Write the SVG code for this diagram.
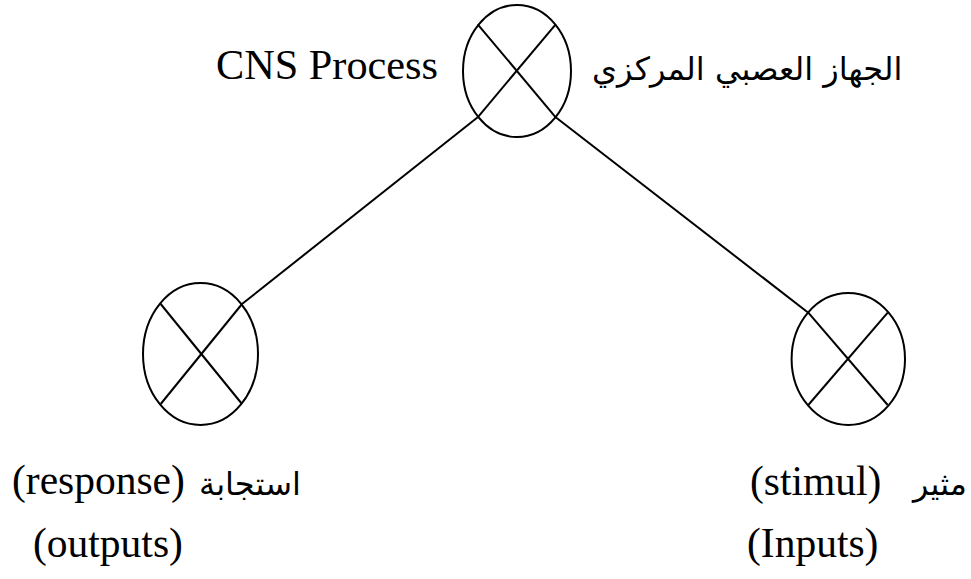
<svg xmlns="http://www.w3.org/2000/svg" width="971" height="579" viewBox="0 0 971 579">
<style>
.node{fill:none;stroke:#000;stroke-width:2}
.x{stroke:#000;stroke-width:2}
.conn{stroke:#000;stroke-width:2;fill:none}
.lat{font-family:"Liberation Serif","Times New Roman",serif;font-size:41.5px;fill:#000}
.ar{font-family:"DejaVu Sans","Noto Sans",sans-serif;font-size:32px;fill:#000}
</style>
<rect width="971" height="579" fill="#fff"/>
<g id="connectors">
<line class="conn" x1="477.7" y1="117.3" x2="242" y2="304"/>
<line class="conn" x1="555.7" y1="117.3" x2="808.3" y2="312.7"/>
</g>
<g id="cns">
<ellipse class="node" cx="517" cy="71" rx="54" ry="66"/>
<line class="x" x1="477.7" y1="24.3" x2="555.7" y2="117.3"/>
<line class="x" x1="555.7" y1="24.3" x2="477.7" y2="117.3"/>
<text class="lat" x="216" y="79" textLength="222" lengthAdjust="spacingAndGlyphs">CNS Process</text>
<text class="ar" x="592" y="80">الجهاز العصبي المركزي</text>
</g>
<g id="response">
<ellipse class="node" cx="200.5" cy="354" rx="57.5" ry="71"/>
<line class="x" x1="160.7" y1="304" x2="242" y2="404"/>
<line class="x" x1="242" y1="304" x2="160.7" y2="404"/>
<text class="lat" x="12" y="494">(response)</text>
<text class="ar" x="199" y="495">استجابة</text>
<text class="lat" x="33" y="557">(outputs)</text>
</g>
<g id="stimulus">
<ellipse class="node" cx="848.3" cy="359" rx="56.7" ry="66"/>
<line class="x" x1="808.3" y1="312.7" x2="887.7" y2="405"/>
<line class="x" x1="887.7" y1="312.7" x2="808.3" y2="405"/>
<text class="lat" x="750" y="495">(stimul)</text>
<text class="ar" x="967" y="495" text-anchor="end">مثير</text>
<text class="lat" x="747" y="557">(Inputs)</text>
</g>
</svg>
